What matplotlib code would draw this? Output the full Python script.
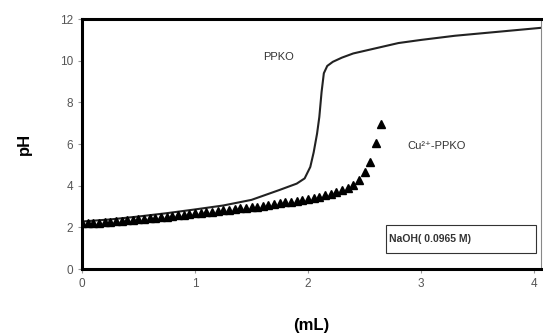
import matplotlib.pyplot as plt
from matplotlib.patches import Rectangle

plt.rcParams['font.family'] = ['Liberation Sans', 'DejaVu Sans']

# PPKO titration curve (line)
ppko_vol = [0.0, 0.25, 0.5, 0.75, 1.0, 1.25, 1.5, 1.75, 1.9, 1.97, 2.02, 2.05,
            2.08, 2.1, 2.12, 2.14, 2.17, 2.22, 2.3, 2.4, 2.6, 2.8, 3.0, 3.3,
            3.6, 3.8, 4.0, 4.06]
ppko_ph = [2.28, 2.38, 2.52, 2.68, 2.86, 3.05, 3.32, 3.8, 4.1, 4.35, 4.9, 5.6,
           6.5, 7.3, 8.5, 9.4, 9.75, 9.95, 10.15, 10.35, 10.6, 10.85, 11.0, 11.2,
           11.35, 11.45, 11.55, 11.58]

# Cu2+-PPKO titration (triangles)
cu_vol = [0.00, 0.05, 0.10, 0.15, 0.20, 0.25, 0.30, 0.35, 0.40, 0.45,
          0.50, 0.55, 0.60, 0.65, 0.70, 0.75, 0.80, 0.85, 0.90, 0.95,
          1.00, 1.05, 1.10, 1.15, 1.20, 1.25, 1.30, 1.35, 1.40, 1.45,
          1.50, 1.55, 1.60, 1.65, 1.70, 1.75, 1.80, 1.85, 1.90, 1.95,
          2.00, 2.05, 2.10, 2.15, 2.20, 2.25, 2.30, 2.35, 2.40, 2.45,
          2.50, 2.55, 2.60, 2.65]
cu_ph = [2.20, 2.21, 2.22, 2.23, 2.25, 2.27, 2.29, 2.31, 2.33, 2.35,
         2.38, 2.40, 2.43, 2.46, 2.49, 2.52, 2.55, 2.58, 2.61, 2.64,
         2.67, 2.70, 2.73, 2.76, 2.79, 2.82, 2.85, 2.88, 2.91, 2.94,
         2.97, 3.00, 3.04, 3.08, 3.12, 3.16, 3.20, 3.24, 3.28, 3.33,
         3.38, 3.43, 3.48, 3.54, 3.61, 3.69, 3.78, 3.88, 4.02, 4.25,
         4.65, 5.15, 6.05, 6.95]

fig = plt.figure(figsize=(5.43, 3.35), dpi=100)
ax = fig.add_axes([0.151, 0.197, 0.845, 0.746])

ax.plot(ppko_vol, ppko_ph, color='#222222', lw=1.5)
ax.plot(cu_vol, cu_ph, linestyle='none', marker='^', color='black', ms=6)

ax.set_xlim(0, 4.06)
ax.set_ylim(0, 12)
ax.set_xticks([0, 1, 2, 3, 4])
ax.set_yticks([0, 2, 4, 6, 8, 10, 12])
ax.tick_params(direction='out', length=3, width=0.8, colors='#999999',
               labelcolor='#555555', labelsize=8.5)

for s in ['left', 'bottom', 'top']:
    ax.spines[s].set_linewidth(2.2)
    ax.spines[s].set_color('black')
ax.spines['right'].set_linewidth(0.8)
ax.spines['right'].set_color('#888888')

ax.set_ylabel('pH', fontsize=12, fontweight='bold', labelpad=20)
ax.set_xlabel('(mL)', fontsize=12, fontweight='bold', labelpad=20)

ax.text(1.6, 10.2, 'PPKO', fontsize=8, color='#333333', va='center')
ax.text(2.88, 5.9, 'Cu²⁺-PPKO', fontsize=8, color='#333333', va='center')

ax.add_patch(Rectangle((2.69, 0.78), 1.33, 1.34, fill=False, lw=0.8,
                       edgecolor='#333333'))
ax.text(2.72, 1.42, 'NaOH( 0.0965 M)', fontsize=7.5, color='#333333',
        va='center', fontweight='bold')

fig.savefig('out.png', dpi=100)
